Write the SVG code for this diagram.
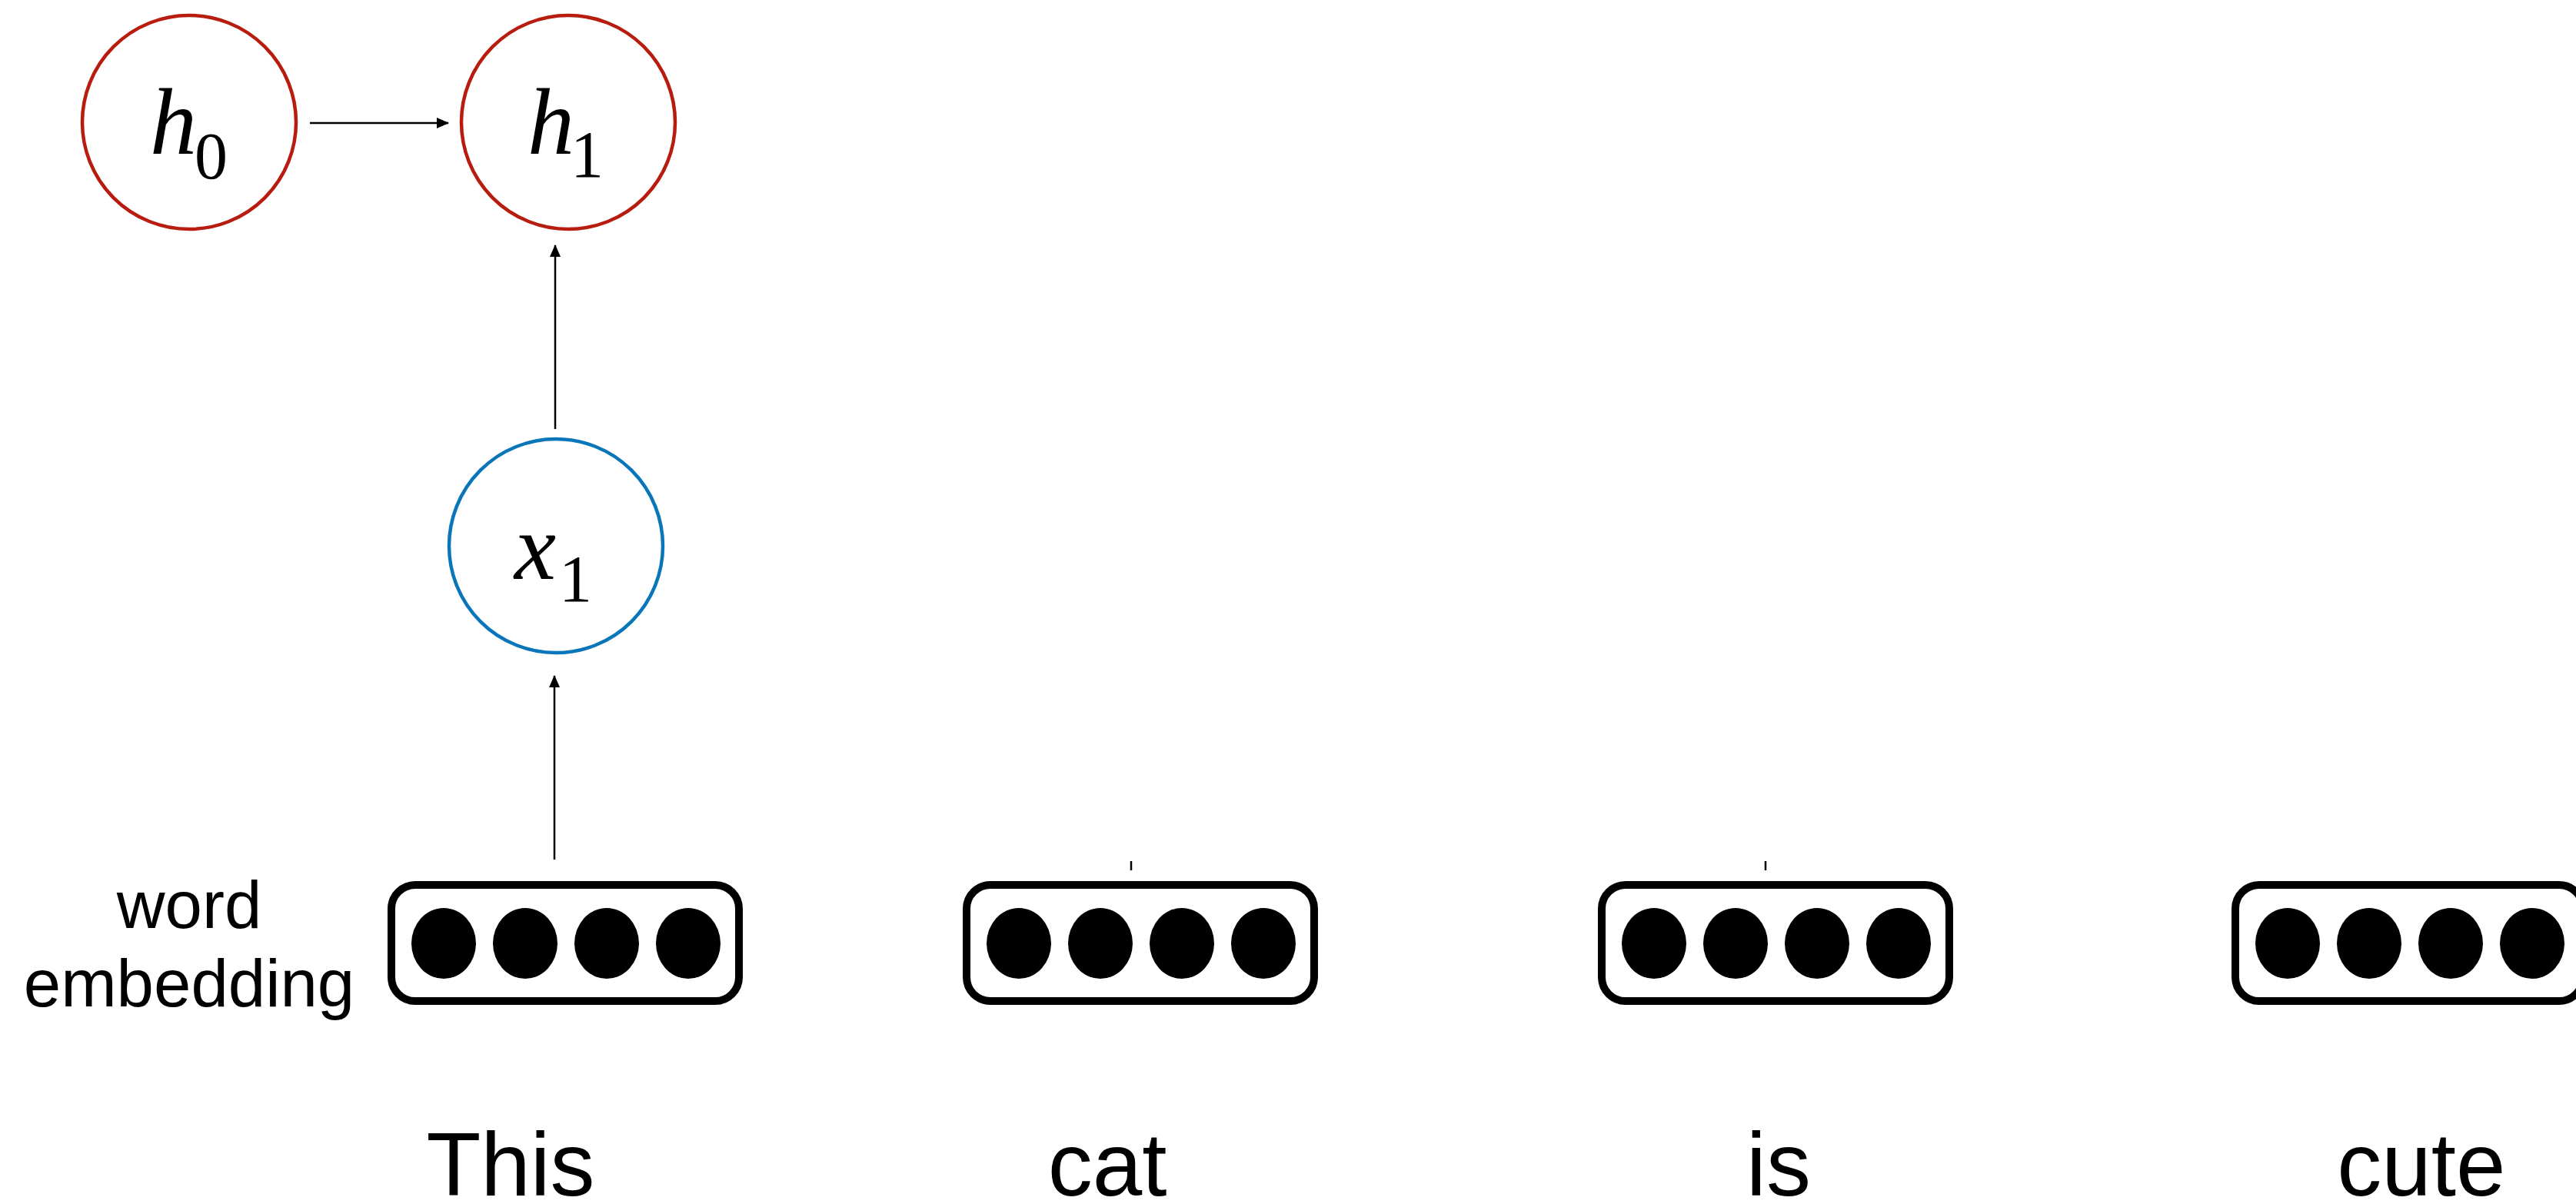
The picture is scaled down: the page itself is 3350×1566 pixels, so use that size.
<svg xmlns="http://www.w3.org/2000/svg" xmlns:xlink="http://www.w3.org/1999/xlink" width="3350" height="1566" viewBox="0 0 3350 1566">
  <style>
    .hidden-state { fill: #ffffff; stroke: #B81C0E; stroke-width: 4.5; }
    .input-state { fill: #ffffff; stroke: #0A76BA; stroke-width: 4.5; }
    .math { font-family: "Liberation Serif", "Times New Roman", serif; fill: #000000; }
    .var { font-style: italic; font-size: 122px; }
    .sub { font-size: 86px; }
    .label { font-family: "Liberation Sans", Arial, Helvetica, sans-serif; fill: #000000; text-anchor: middle; }
    .word { font-size: 116px; }
    .side { font-size: 87px; }
    .frame { fill: #ffffff; stroke: #000000; stroke-width: 10; }
    .unit { fill: #000000; }
    .edge { stroke: #000000; stroke-width: 2.5; fill: none; }
  </style>
  <defs>
    <marker id="arrowhead" markerUnits="userSpaceOnUse" markerWidth="16" markerHeight="16" viewBox="0 0 16 16" refX="15" refY="8" orient="auto">
      <path d="M0,1 L16,8 L0,15 Z" fill="#000000"/>
    </marker>
    <!-- embedding vector: rounded frame holding four units -->
    <g id="embedding-vector">
      <rect class="frame" x="5" y="5" width="452" height="151" rx="31" ry="31"/>
      <ellipse class="unit" cx="73" cy="81" rx="42" ry="46"/>
      <ellipse class="unit" cx="179" cy="81" rx="42" ry="46"/>
      <ellipse class="unit" cx="285" cy="81" rx="42" ry="46"/>
      <ellipse class="unit" cx="391" cy="81" rx="42" ry="46"/>
    </g>
  </defs>

  <rect x="0" y="0" width="3350" height="1566" fill="#ffffff"/>

  <!-- connectors -->
  <g id="connectors">
    <line class="edge" x1="403" y1="160" x2="583" y2="160" marker-end="url(#arrowhead)"/>
    <line class="edge" x1="722" y1="558" x2="722" y2="319" marker-end="url(#arrowhead)"/>
    <line class="edge" x1="721" y1="1118" x2="721" y2="879" marker-end="url(#arrowhead)"/>
    <line class="edge" x1="1471" y1="1120" x2="1471" y2="1132"/>
    <line class="edge" x1="2296" y1="1120" x2="2296" y2="1132"/>
  </g>

  <!-- hidden state h0 -->
  <g id="node-h0">
    <circle class="hidden-state" cx="246" cy="159" r="139"/>
    <text class="math var" x="195" y="200">h</text>
    <text class="math sub" x="253" y="232">0</text>
  </g>

  <!-- hidden state h1 -->
  <g id="node-h1">
    <circle class="hidden-state" cx="739" cy="159" r="139"/>
    <text class="math var" x="686" y="200">h</text>
    <text class="math sub" x="742" y="230">1</text>
  </g>

  <!-- input x1 -->
  <g id="node-x1">
    <circle class="input-state" cx="723" cy="710" r="139"/>
    <text class="math var" x="669" y="753">x</text>
    <text class="math sub" x="727" y="782">1</text>
  </g>

  <!-- side label -->
  <g id="label-word-embedding">
    <text class="label side" x="246" y="1207">word</text>
    <text class="label side" x="246" y="1309">embedding</text>
  </g>

  <!-- word embeddings -->
  <g id="embedding-this">
    <use xlink:href="#embedding-vector" transform="translate(504,1146)"/>
  </g>
  <g id="embedding-cat">
    <use xlink:href="#embedding-vector" transform="translate(1252,1146)"/>
  </g>
  <g id="embedding-is">
    <use xlink:href="#embedding-vector" transform="translate(2078,1146)"/>
  </g>
  <g id="embedding-cute">
    <use xlink:href="#embedding-vector" transform="translate(2902,1146)"/>
  </g>

  <!-- input words -->
  <g id="word-this"><text class="label word" x="664" y="1555">This</text></g>
  <g id="word-cat"><text class="label word" x="1440" y="1555">cat</text></g>
  <g id="word-is"><text class="label word" x="2313" y="1555">is</text></g>
  <g id="word-cute"><text class="label word" x="3149" y="1555">cute</text></g>
</svg>
